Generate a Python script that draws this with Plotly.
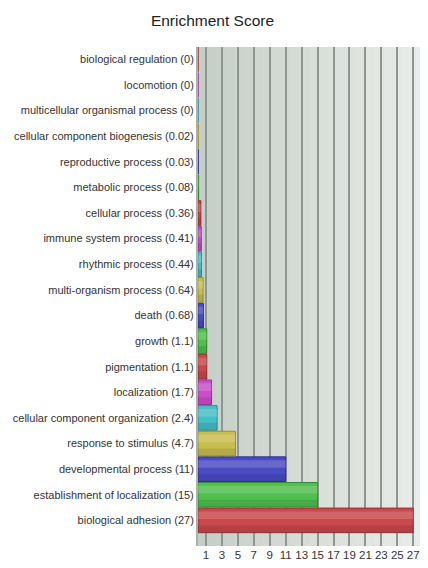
import plotly.graph_objects as go

# ---- data (top to bottom as shown) ----
categories = [
    "biological regulation", "locomotion", "multicellular organismal process",
    "cellular component biogenesis", "reproductive process", "metabolic process",
    "cellular process", "immune system process", "rhythmic process",
    "multi-organism process", "death", "growth", "pigmentation", "localization",
    "cellular component organization", "response to stimulus",
    "developmental process", "establishment of localization", "biological adhesion",
]
scores = [0, 0, 0, 0.02, 0.03, 0.08, 0.36, 0.41, 0.44, 0.64, 0.68,
          1.1, 1.1, 1.7, 2.4, 4.7, 11, 15, 27]
tick_vals = list(range(1, 28, 2))

palette = ["#c8484c", "#4fbf4f", "#4a4ac4", "#c8be4e", "#48bec6", "#c84fc8"]
dark = ["#9a2e32", "#2f8f2f", "#2e2e90", "#9a9030", "#2e9098", "#9a309a"]

# plot bottom-up so biological adhesion is at the bottom
cats_b = categories[::-1]
vals_b = scores[::-1]
labels_b = [f"{c} ({v:g})" for c, v in zip(cats_b, vals_b)]
cols_b = [palette[i % 6] for i in range(len(cats_b))]
dcols_b = [dark[i % 6] for i in range(len(cats_b))]

fig = go.Figure()
fig.add_trace(go.Bar(
    x=vals_b, y=labels_b, orientation="h", width=0.96,
    marker=dict(color=cols_b, line=dict(color=dcols_b, width=1)),
    showlegend=False, hoverinfo="skip",
))
# cylinder-like shading
fig.add_trace(go.Bar(
    x=vals_b, y=labels_b, orientation="h", width=0.3, offset=0.05,
    marker=dict(color="rgba(255,255,255,0.16)", line=dict(width=0)),
    showlegend=False, hoverinfo="skip",
))
fig.add_trace(go.Bar(
    x=vals_b, y=labels_b, orientation="h", width=0.28, offset=-0.47,
    marker=dict(color="rgba(0,0,0,0.10)", line=dict(width=0)),
    showlegend=False, hoverinfo="skip",
))

# background gradient (left darker, right lighter)
n = 24
shapes = []
c0 = (198, 207, 199)
c1 = (232, 236, 232)
for i in range(n):
    t = i / (n - 1)
    col = tuple(int(round(a + (b - a) * t)) for a, b in zip(c0, c1))
    shapes.append(dict(type="rect", xref="paper", yref="paper",
                       x0=i / n, x1=(i + 1) / n + 0.002, y0=0, y1=1,
                       fillcolor=f"rgb{col}", line=dict(width=0), layer="below"))

font_family = "Liberation Sans, Arial, sans-serif"

# page body has an 8px margin; keep the figure inside the visible viewport
fig.update_layout(
    width=414, height=552,
    margin=dict(l=190, r=0, t=39, b=14),
    paper_bgcolor="white",
    plot_bgcolor="rgba(0,0,0,0)",
    barmode="overlay",
    shapes=shapes,
    title=dict(text="Enrichment Score", x=0.494, xanchor="center", y=0.978,
               yanchor="middle",
               font=dict(family=font_family, size=15.5, color="#222222")),
    font=dict(family=font_family, color="#333333"),
    xaxis=dict(range=[0, 28.1], tickvals=tick_vals, showgrid=True,
               gridcolor="#8e978f", gridwidth=1.5, zeroline=False,
               showline=False, ticks="", tickangle=0, automargin=False,
               ticklabeloverflow="allow",
               tickfont=dict(size=11.5, color="#333333")),
    yaxis=dict(type="category", range=[-1.0, 18.48], showgrid=False,
               showline=True, linecolor="#a9b1aa", linewidth=2,
               ticks="", automargin=False,
               tickfont=dict(size=11, color="#333333")),
)

fig.write_html("out.html")
